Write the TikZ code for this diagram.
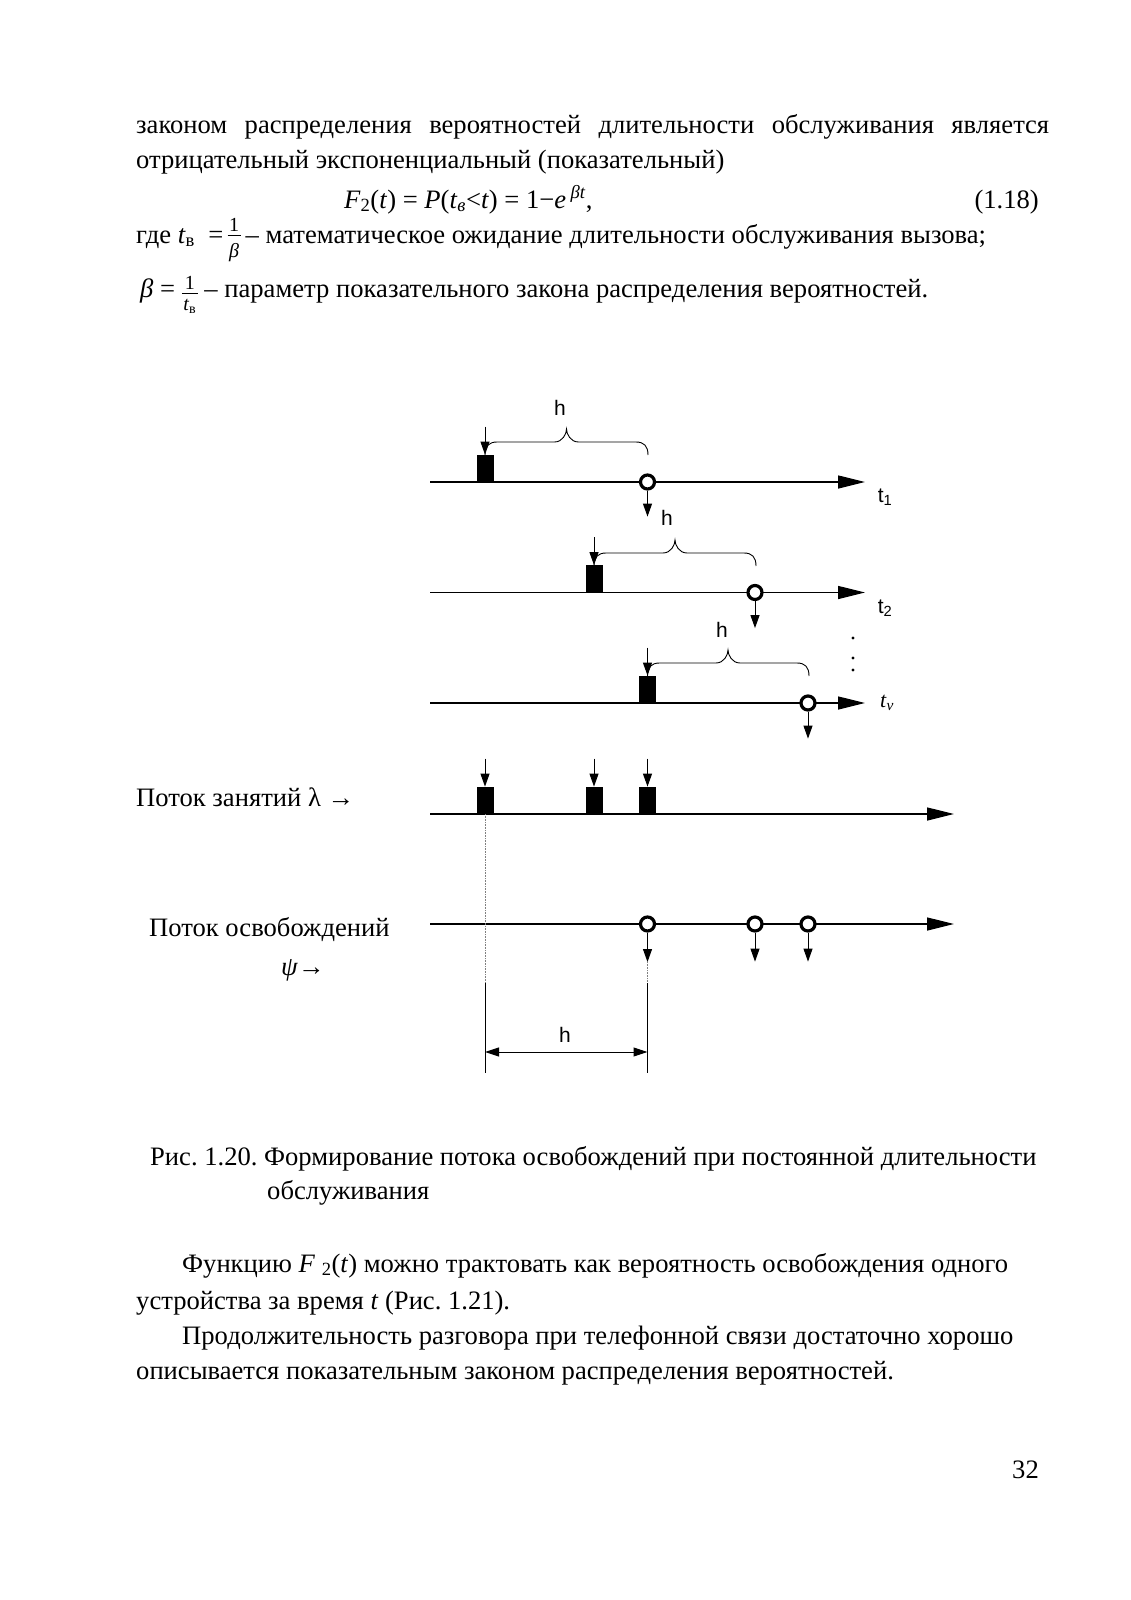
\documentclass[tikz,border=0pt]{standalone}
\usepackage{fontspec}
\setmainfont{Liberation Serif}
\newfontfamily\sansf{Liberation Sans}
\usetikzlibrary{arrows.meta}
\frenchspacing
% fraction built from text: #1 numerator, #2 denominator, #3 strut height, #4 lowering
\newcommand\tfr[4]{\begingroup\fontsize{20}{20}\selectfont
  \setbox0\hbox{#1}\setbox2\hbox{\rule{0pt}{#3}#2}%
  \dimen0=\ifdim\wd0>\wd2 \wd0\else\wd2\fi
  \advance\dimen0 by 3pt
  \raisebox{-#4}{\vbox{\hbox to\dimen0{\hss\box0\hss}\kern3.5pt\hrule height 1.1pt\hbox to\dimen0{\hss\box2\hss}}}\endgroup}
\tikzset{
  txt/.style={anchor=base west, inner sep=0pt, font=\fontsize{26.6}{32}\selectfont},
  sl/.style={inner sep=0pt, font=\sansf\fontsize{21}{24}\selectfont},
  axis/.style={line width=1.3pt, -{Triangle[length=27pt,width=13pt]}},
  darr/.style={line width=1pt, -{Triangle[length=13pt,width=9pt]}},
  dimarr/.style={line width=1pt, {Triangle[length=14pt,width=9pt]}-{Triangle[length=14pt,width=9pt]}},
  req/.style={fill=black, draw=none, minimum width=17pt, minimum height=27pt, inner sep=0pt, anchor=south},
  rel/.style={circle, draw=black, line width=3.2pt, fill=white, minimum size=14pt, inner sep=0pt},
  brc/.style={line width=0.9pt},
  guide/.style={densely dotted, gray, line width=0.6pt},
  tick/.style={line width=0.9pt}
}
\newcommand\hbrace[4]{%
  \draw[brc] (#1,#3) .. controls +(0,-9) and +(-8,0) .. (#1+12,#3-13) -- (#4-12,#3-13)
    .. controls +(8,0) and +(0,5) .. (#4,#3-26)
    .. controls +(0,5) and +(-8,0) .. (#4+12,#3-13) -- (#2-12,#3-13)
    .. controls +(8,0) and +(0,-9) .. (#2,#3);}
\begin{document}
\begin{tikzpicture}[x=1pt,y=-1pt]
\useasboundingbox (0,0) rectangle (1131,1600);
\fill[white] (0,0) rectangle (1131,1600);

% ---------- text above ----------
\node[txt] (l1) at (136,133) {\makebox[913pt][s]{законом распределения вероятностей длительности обслуживания является}};
\node[txt] (l2) at (136,168) {отрицательный экспоненциальный (показательный)};
\node[txt] (fm) at (344,208) {\textit{F}\textsubscript{2}(\textit{t}) = \textit{P}(\textit{t}\textsubscript{\textit{в}}<\textit{t}) = 1−\textit{e}\,\textsuperscript{\textit{βt}},};
\node[txt, anchor=base east] (eqn) at (1039,208) {(1.18)};
\node[txt] (l3) at (136,243) {где \textit{t}\textsubscript{в}\ \ =\,\tfr{1}{\textit{β}}{21pt}{14pt}\kern5pt– математическое ожидание длительности обслуживания вызова;};
\node[txt] (l4) at (140,297) {\textit{β} = \tfr{1}{\textit{t}\textsubscript{в}}{16pt}{13pt}\ – параметр показательного закона распределения вероятностей.};

% ---------- axes ----------
\coordinate (s1) at (430,482);   \coordinate (e1) at (865,482);
\coordinate (s2) at (430,592.5); \coordinate (e2) at (865,592.5);
\coordinate (s3) at (430,703);   \coordinate (e3) at (865,703);
\coordinate (s4) at (430,814);   \coordinate (e4) at (954,814);
\coordinate (s5) at (430,924);   \coordinate (e5) at (954,924);
\draw[axis] (s1) -- (e1);
\draw[axis] (s2) -- (e2);
\draw[axis] (s3) -- (e3);
\draw[axis] (s4) -- (e4);
\draw[axis] (s5) -- (e5);

% ---------- row 1 ----------
\node[req] (r1) at (485,482) {};
\node[rel] (c1) at (647.5,482) {};
\draw[darr] ([yshift=28pt]r1.north) -- (r1.north);
\draw[darr] (c1.south) -- ([yshift=-26pt]c1.south);
\hbrace{485}{648}{455}{566.5}
\node[sl] (h1) at (560,408) {h};
\node[sl] (t1) at (885,497) {t\textsubscript{1}};

% ---------- row 2 ----------
\node[req] (r2) at (594,592.5) {};
\node[rel] (c2) at (755,592.5) {};
\draw[darr] ([yshift=28pt]r2.north) -- (r2.north);
\draw[darr] (c2.south) -- ([yshift=-27pt]c2.south);
\hbrace{594}{756}{566}{675}
\node[sl] (h2) at (667,518) {h};
\node[sl] (t2) at (885,608) {t\textsubscript{2}};

% ---------- row 3 ----------
\node[req] (r3) at (647.5,703) {};
\node[rel] (c3) at (808,703) {};
\draw[darr] ([yshift=28pt]r3.north) -- (r3.north);
\draw[darr] (c3.south) -- ([yshift=-27pt]c3.south);
\hbrace{647.5}{809}{676}{728}
\node[sl] (h3) at (722,630) {h};
\node[inner sep=0pt, font=\fontsize{22}{24}\selectfont] (tv) at (887,703) {\textit{t}\textsubscript{\textit{v}}};
\fill (853,638) circle (1.6pt) (853,658) circle (1.6pt) (853,670) circle (1.6pt);

% ---------- row 4: busy flow ----------
\node[req] (a1) at (485,814) {};
\node[req] (a2) at (594,814) {};
\node[req] (a3) at (647.5,814) {};
\draw[darr] ([yshift=28pt]a1.north) -- (a1.north);
\draw[darr] ([yshift=28pt]a2.north) -- (a2.north);
\draw[darr] ([yshift=28pt]a3.north) -- (a3.north);
\node[txt] (lam) at (136,806) {Поток занятий λ →};

% ---------- row 5: release flow ----------
\coordinate (g1) at (485,983);
\coordinate (g1e) at (485,1073);
\draw[guide] (a1.south) -- (g1);
\draw[tick] (g1) -- (g1e);
\node[rel] (b1) at (647.5,924) {};
\node[rel] (b2) at (755,924) {};
\node[rel] (b3) at (808,924) {};
\coordinate (k1) at (647.5,962);
\draw[darr] (b1.south) -- (k1);
\draw[darr] (b2.south) -- ([yshift=-29pt]b2.south);
\draw[darr] (b3.south) -- ([yshift=-29pt]b3.south);
\coordinate (g2) at (647.5,983);
\coordinate (g2e) at (647.5,1073);
\draw[guide] (k1) -- (g2);
\draw[tick] (g2) -- (g2e);
\coordinate (d1) at (485,1052);
\coordinate (d2) at (647.5,1052);
\draw[dimarr] (d1) -- (d2);
\node[sl] (h4) at (565,1035) {h};
\node[txt] (psi1) at (149,936) {Поток освобождений};
\node[txt] (psi2) at (281,975) {\textit{ψ}→};

% ---------- caption and text below ----------
\node[txt] (cap1) at (150,1165) {Рис. 1.20. Формирование потока освобождений при постоянной длительности};
\node[txt] (cap2) at (267,1199) {обслуживания};
\node[txt] (p1) at (182,1272) {Функцию \textit{F} \textsubscript{2}(\textit{t}) можно трактовать как вероятность освобождения одного};
\node[txt] (p2) at (136,1309) {устройства за время \textit{t} (Рис. 1.21).};
\node[txt] (p3) at (182,1344) {Продолжительность разговора при телефонной связи достаточно хорошо};
\node[txt] (p4) at (136,1379) {описывается показательным законом распределения вероятностей.};
\node[txt, anchor=base east] (pg) at (1039,1478) {32};
\end{tikzpicture}
\end{document}
